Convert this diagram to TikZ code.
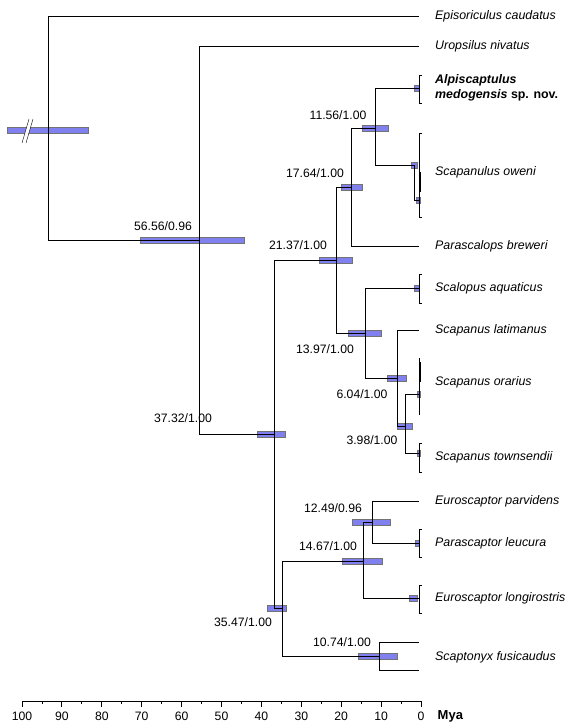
\documentclass[tikz,border=0pt]{standalone}
\usepackage{fontspec}
\setmainfont{Liberation Sans}
\usetikzlibrary{positioning}
\definecolor{hpdblue}{RGB}{128,128,238}
\newcommand{\hpdbar}[3]{\draw[hpd] (#1,{#3-3}) rectangle (#2,{#3+3});}

\begin{document}
\begin{tikzpicture}[
        x=1pt, y=-1pt,
        node distance=16pt,
        font=\fontsize{12.2}{14}\selectfont,
        branch/.style={line width=0.9pt},
        hpd/.style={draw=black!55, fill=hpdblue, line width=0.4pt},
        taxon/.style={font=\fontsize{12.4}{14}\selectfont\itshape, inner sep=0pt},
        support/.style={inner sep=0pt}
        ]
        \useasboundingbox (0,0) rectangle (576,728);

        % internal nodes
        \coordinate (root) at (48,130);
        \coordinate (nA) at (199,240);
        \coordinate (nB) at (274,434);
        \coordinate (nC) at (336,260);
        \coordinate (nD) at (351,187);
        \coordinate (nE) at (375,128);
        \coordinate (nF) at (365,333);
        \coordinate (nG) at (397,378);
        \coordinate (nH) at (405,426);
        \coordinate (nI) at (282,608);
        \coordinate (nJ) at (363,561);
        \coordinate (nK) at (372,522);
        \coordinate (nL) at (379,656);

        % tips
        \coordinate (tEpi) at (419,16);
        \coordinate (tUro) at (419,46);
        \coordinate (tAlp) at (419,88);
        \coordinate (tSco) at (414,165);
        \coordinate (tPbr) at (419,246);
        \coordinate (tSaq) at (419,288);
        \coordinate (tSla) at (419,330);
        \coordinate (tSor) at (419,394);
        \coordinate (tStw) at (419,453);
        \coordinate (tEpa) at (419,501);
        \coordinate (tPle) at (419,543);
        \coordinate (tElo) at (419,598);
        \coordinate (tSf1) at (419,642);
        \coordinate (tSf2) at (419,670);

        % label anchors for species with several samples
        \coordinate (cSco) at (419,172);
        \coordinate (cSor) at (419,382);
        \coordinate (cStw) at (419,457);
        \coordinate (cSf) at (419,657);

        % 95% HPD bars
        \hpdbar{7}{88}{130}
        \hpdbar{140}{244}{240}
        \hpdbar{257}{285}{434}
        \hpdbar{319}{352}{260}
        \hpdbar{341}{362}{187}
        \hpdbar{362}{388}{128}
        \hpdbar{348}{381}{333}
        \hpdbar{387}{406}{378}
        \hpdbar{397}{412}{426}
        \hpdbar{267}{286}{608}
        \hpdbar{342}{382}{561}
        \hpdbar{352}{390}{522}
        \hpdbar{358}{397}{656}
        \hpdbar{414}{419}{88}
        \hpdbar{411}{417}{165}
        \hpdbar{416}{420}{200}
        \hpdbar{414}{419}{288}
        \hpdbar{417}{420}{394}
        \hpdbar{417}{420}{453}
        \hpdbar{415}{419}{543}
        \hpdbar{409}{417}{598}

        % break on the root bar
        \fill[white] (22,143) -- (29,119) -- (33,119) -- (26,143) -- cycle;
        \draw (22,143) -- (29,119);
        \draw (26,143) -- (33,119);

        % branches
        \draw[branch] (root) |- (tEpi);
        \draw[branch] (root) |- (nA);
        \draw[branch] (nA) |- (tUro);
        \draw[branch] (nA) |- (nB);
        \draw[branch] (nB) |- (nC);
        \draw[branch] (nB) |- (nI);
        \draw[branch] (nC) |- (nD);
        \draw[branch] (nC) |- (nF);
        \draw[branch] (nD) |- (nE);
        \draw[branch] (nD) |- (tPbr);
        \draw[branch] (nE) |- (tAlp);
        \draw[branch] (nE) |- (tSco);
        \draw[branch] (nF) |- (tSaq);
        \draw[branch] (nF) |- (nG);
        \draw[branch] (nG) |- (tSla);
        \draw[branch] (nG) |- (nH);
        \draw[branch] (nH) |- (tSor);
        \draw[branch] (nH) |- (tStw);
        \draw[branch] (nI) |- (nJ);
        \draw[branch] (nI) |- (nL);
        \draw[branch] (nJ) |- (nK);
        \draw[branch] (nJ) |- (tElo);
        \draw[branch] (nK) |- (tEpa);
        \draw[branch] (nK) |- (tPle);
        \draw[branch] (nL) |- (tSf1);
        \draw[branch] (nL) |- (tSf2);

        % samples within species
        \draw[branch] (422,75) -| (419,103) -- (422,103);
        \draw[branch] (422,133) -| (419,217) -- (422,217);
        \draw[branch] (tSco) -- (414,200) -- (419,200);
        \draw[line width=1.6pt] (420,172) -- (420,192);
        \draw[branch] (422,274) -| (419,303) -- (422,303);
        \draw[branch] (419,358) -- (419,415);
        \draw[line width=1.6pt] (420,362) -- (420,382);
        \draw[branch] (422,443) -| (419,472) -- (422,472);
        \draw[branch] (422,529) -| (419,557) -- (422,557);
        \draw[branch] (422,585) -| (419,613) -- (422,613);

        % taxa
        \node[taxon, right=of tEpi] (lEpi) {Episoriculus caudatus};
        \node[taxon, right=of tUro] (lUro) {Uropsilus nivatus};
        \node[taxon, right=of tAlp, align=left, font=\fontsize{12.4}{15}\selectfont\bfseries\itshape] (lAlp) {Alpiscaptulus\\medogensis \upshape sp. nov.};
        \node[taxon, right=of cSco] (lSco) {Scapanulus oweni};
        \node[taxon, right=of tPbr] (lPbr) {Parascalops breweri};
        \node[taxon, right=of tSaq] (lSaq) {Scalopus aquaticus};
        \node[taxon, right=of tSla] (lSla) {Scapanus latimanus};
        \node[taxon, right=of cSor] (lSor) {Scapanus orarius};
        \node[taxon, right=of cStw] (lStw) {Scapanus townsendii};
        \node[taxon, right=of tEpa] (lEpa) {Euroscaptor parvidens};
        \node[taxon, right=of tPle] (lPle) {Parascaptor leucura};
        \node[taxon, right=of tElo] (lElo) {Euroscaptor longirostris};
        \node[taxon, right=of cSf] (lSf) {Scaptonyx fusicaudus};

        % ages / posterior probabilities
        \node[support] (sA) at (163,226) {56.56/0.96};
        \node[support] (sB) at (183,418) {37.32/1.00};
        \node[support] (sC) at (298,245) {21.37/1.00};
        \node[support] (sD) at (315,173) {17.64/1.00};
        \node[support] (sE) at (338,115) {11.56/1.00};
        \node[support] (sF) at (325,349) {13.97/1.00};
        \node[support] (sG) at (362,394) {6.04/1.00};
        \node[support] (sH) at (372,440) {3.98/1.00};
        \node[support] (sI) at (243,622) {35.47/1.00};
        \node[support] (sJ) at (328,546) {14.67/1.00};
        \node[support] (sK) at (333,508) {12.49/0.96};
        \node[support] (sL) at (342,642) {10.74/1.00};

        % time axis
        \draw[branch] (22,701) -- (421,701);
        \foreach \a in {0,10,...,100}
            \draw[branch] ({421-3.99*\a},701) -- ++(0,6) node[below=1pt] (tick\a) {\a};
        \foreach \a in {5,15,...,95}
            \draw[branch] ({421-3.99*\a},701) -- ++(0,3);
        \node[right=6pt of tick0, font=\fontsize{13}{15}\selectfont\bfseries] (mya) {Mya};
    \end{tikzpicture}
\end{document}
